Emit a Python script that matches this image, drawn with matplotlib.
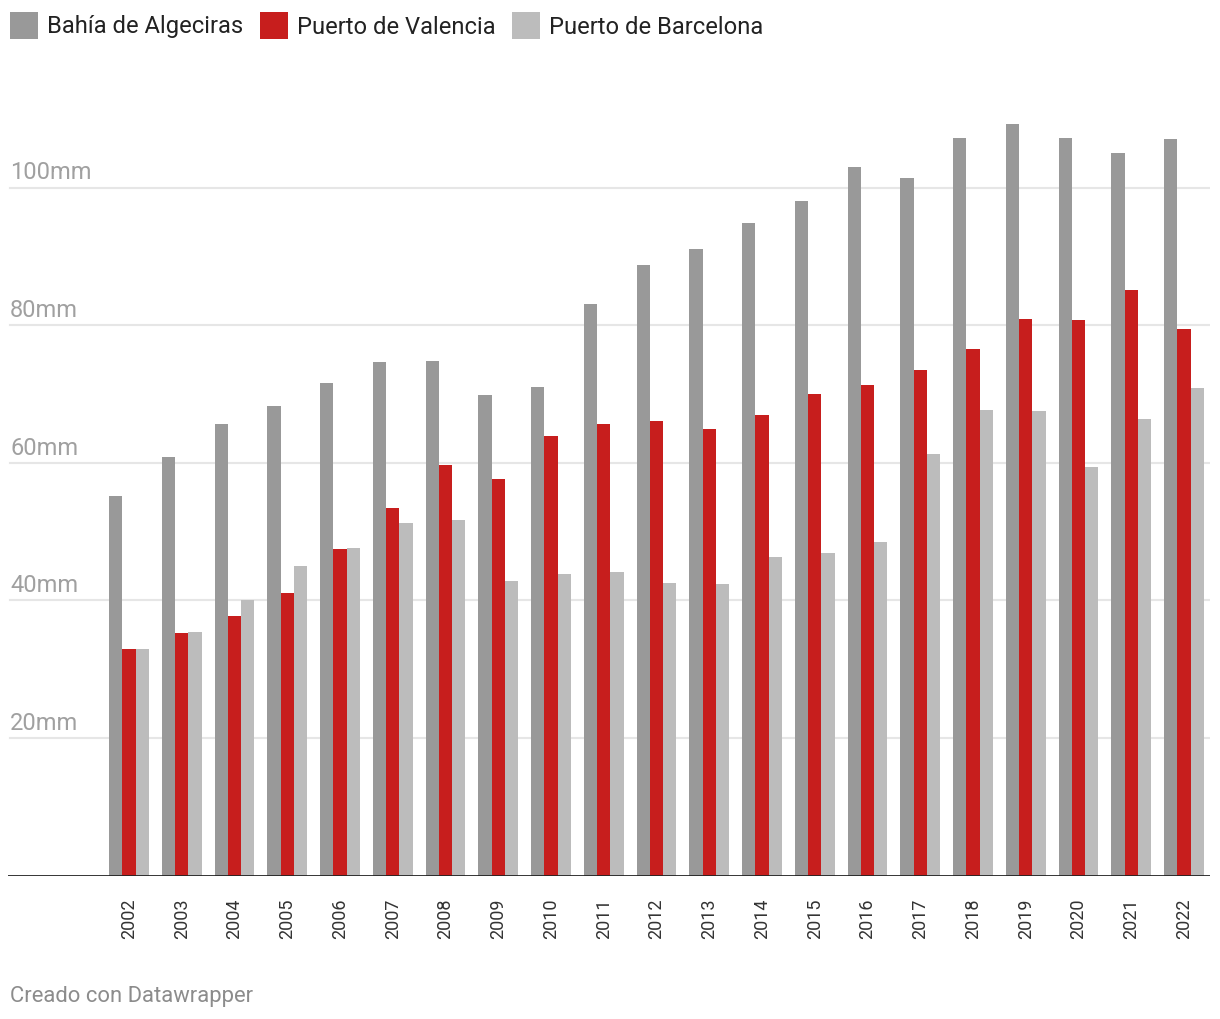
import numpy as np
import matplotlib
matplotlib.use("Agg")
import matplotlib.pyplot as plt
from matplotlib.patches import Rectangle

# ============================================================
# Data (millones de toneladas)
# ============================================================

years = [str(y) for y in range(2002, 2023)]

algeciras = [55.2, 60.8, 65.6, 68.2, 71.6, 74.6, 74.8, 69.8, 71.0, 83.1, 88.7,
             91.1, 94.8, 98.0, 103.0, 101.4, 107.2, 109.2, 107.2, 105.0, 107.0]
valencia = [32.9, 35.2, 37.7, 41.1, 47.5, 53.4, 59.7, 57.7, 63.9, 65.6, 66.1,
            64.9, 66.9, 70.0, 71.3, 73.5, 76.5, 80.9, 80.8, 85.1, 79.4]
barcelona = [32.9, 35.4, 40.0, 45.0, 47.6, 51.2, 51.7, 42.8, 43.8, 44.1, 42.5,
             42.4, 46.3, 46.9, 48.5, 61.3, 67.7, 67.5, 59.4, 66.4, 70.9]

series_names = ["Bahía de Algeciras", "Puerto de Valencia", "Puerto de Barcelona"]
series_values = [algeciras, valencia, barcelona]
series_colors = ["#999999", "#c71e1d", "#bcbcbc"]

y_ticks = [20, 40, 60, 80, 100]
y_tick_labels = [f"{v}mm" for v in y_ticks]

# ============================================================
# Figure
# ============================================================

plt.rcParams["font.family"] = ["Roboto", "DejaVu Sans"]

W, H = 1220, 1020
fig = plt.figure(figsize=(W / 100, H / 100), dpi=100)

# axes spans pixel x 8..1210, y (value 0) at 876, 6.88 px per unit
y_top = 112
px_per_unit = 6.88
ax_left, ax_right = 8, 1210
ax_bottom = 876.5
ax_h = y_top * px_per_unit
ax = fig.add_axes([ax_left / W, (H - ax_bottom) / H,
                   (ax_right - ax_left) / W, ax_h / H])

x = np.arange(len(years))
group_step = 52.75
bar_w = 13.3 / group_step
x_left = (ax_left - 129) / group_step
x_right = len(years) - 1 + (ax_right - 1184) / group_step

for i, (name, vals, col) in enumerate(zip(series_names, series_values, series_colors)):
    ax.bar(x + (i - 1) * bar_w, vals, width=bar_w, color=col, linewidth=0, zorder=3)

ax.set_xlim(x_left, x_right)
ax.set_ylim(0, y_top)

# gridlines starting at x=10, labels sitting above them
for v, lab in zip(y_ticks, y_tick_labels):
    ax.axhline(v, xmin=(10 - ax_left) / (ax_right - ax_left), xmax=1,
               color="#e6e6e6", linewidth=1.5, zorder=1)
    ax.text((10 - ax_left) / (ax_right - ax_left), v + 0.6, lab,
            transform=ax.get_yaxis_transform(), ha="left", va="bottom",
            fontsize=17, color="#a0a0a0", zorder=2)

ax.axhline(0, color="#222222", linewidth=2, zorder=4)

ax.set_yticks([])
ax.set_xticks(x)
ax.set_xticklabels(years, rotation=90, fontsize=13, color="#333333")
ax.tick_params(axis="x", length=0, pad=16)
for s in ax.spines.values():
    s.set_visible(False)

# legend
legend_x = [10, 260, 512]
for lx, name, col in zip(legend_x, series_names, series_colors):
    fig.patches.append(Rectangle((lx / W, 1 - 40 / H), 27.5 / W, 27.5 / H,
                                 transform=fig.transFigure, color=col,
                                 linewidth=0))
    fig.text((lx + 37) / W, 1 - 27 / H, name, ha="left", va="center",
             fontsize=17.1, color="#222222")

fig.text(10 / W, 1 - 997 / H, "Creado con Datawrapper", ha="left",
         va="center", fontsize=15.8, color="#8c8c8c")

fig.savefig("out.png", dpi=100)
